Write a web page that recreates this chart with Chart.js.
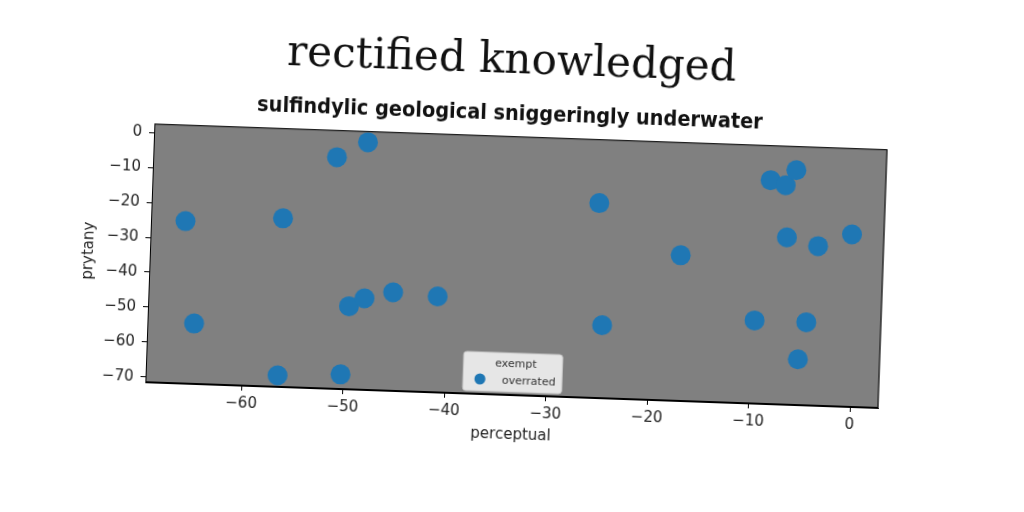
<!DOCTYPE html>
<html>
<head>
<meta charset="utf-8">
<script src="https://cdn.jsdelivr.net/npm/chart.js@4/dist/chart.umd.min.js"></script>
<style>
  html, body { margin: 0; padding: 0; background: #ffffff; overflow: hidden; }
  #wrap { width: 1024px; height: 512px; position: relative; }
  #c { position: absolute; left: 0; top: 0; transform: rotate(2.01deg); transform-origin: 512px 256px; }
</style>
</head>
<body>
<div id="wrap"><canvas id="c" width="1024" height="512"></canvas></div>
<script>
// ---- data ----
const titleText = "rectified knowledged";
const subtitleText = "sulfindylic geological sniggeringly underwater";
const xAxisLabel = "perceptual";
const yAxisLabel = "prytany";
const legendTitle = "exempt";
const seriesLabel = "overrated";

const xValues = [-66.1, -64.9, -56.5, -56.5, -51.4, -48.4, -50.3, -49.7, -48.2, -45.4, -41.0,
                 -25.4, -24.7, -17.2, -9.7, -8.6, -7.1, -6.1, -6.8, -3.7, -0.4, -4.6, -5.3];
const yValues = [-25.0, -54.2, -23.2, -68.2, -5.2, -0.6, -67.3, -47.7, -45.3, -43.3, -44.0,
                 -15.7, -50.6, -29.8, -47.7, -7.4, -8.7, -4.3, -23.6, -25.8, -22.1, -47.7, -58.4];

const xTicks = [-60, -50, -40, -30, -20, -10, 0];
const yTicks = [0, -10, -20, -30, -40, -50, -60, -70];
const xRange = [-69.5, 2.8];
const yRange = [-71.5, 2.6];

const points = xValues.map((x, i) => ({ x: x, y: yValues[i] }));
const minus = v => (v < 0 ? "\u2212" + Math.abs(v) : String(v));

const plotBg = {
  id: 'plotBg',
  beforeDatasetsDraw(chart) {
    const a = chart.chartArea, ctx = chart.ctx;
    ctx.save();
    ctx.fillStyle = '#808080';
    ctx.fillRect(a.left, a.top, a.right - a.left, a.bottom - a.top);
    ctx.restore();
  },
  afterDatasetsDraw(chart) {
    const a = chart.chartArea, ctx = chart.ctx;
    ctx.save();
    ctx.strokeStyle = '#000';
    ctx.lineWidth = 1;
    ctx.strokeRect(a.left + 0.5, a.top + 0.5, a.right - a.left - 1, a.bottom - a.top - 1);
    ctx.restore();
  }
};

const boxLegend = {
  id: 'boxLegend',
  afterDatasetsDraw(chart) {
    const a = chart.chartArea, ctx = chart.ctx;
    const ds = chart.data.datasets[0];
    const w = 99, h = 39;
    const cx = (a.left + a.right) / 2;
    const x0 = cx - w / 2, y0 = a.bottom - 3 - h;
    ctx.save();
    ctx.beginPath();
    if (ctx.roundRect) ctx.roundRect(x0, y0, w, h, 3); else ctx.rect(x0, y0, w, h);
    ctx.fillStyle = 'rgba(255,255,255,0.8)';
    ctx.fill();
    ctx.strokeStyle = '#cccccc';
    ctx.lineWidth = 1;
    ctx.stroke();
    ctx.fillStyle = '#333';
    ctx.font = '11px "DejaVu Sans"';
    ctx.textBaseline = 'middle';
    ctx.textAlign = 'center';
    ctx.fillText(legendTitle, cx + 3, y0 + 11);
    ctx.beginPath();
    ctx.arc(x0 + 17, y0 + 27, 5.5, 0, Math.PI * 2);
    ctx.fillStyle = ds.backgroundColor;
    ctx.fill();
    ctx.fillStyle = '#333';
    ctx.textAlign = 'left';
    ctx.fillText(ds.label, x0 + 39, y0 + 28);
    ctx.restore();
  }
};

new Chart(document.getElementById('c'), {
  type: 'scatter',
  data: {
    datasets: [{
      label: seriesLabel,
      data: points,
      backgroundColor: '#1f77b4',
      borderColor: '#1f77b4',
      borderWidth: 0,
      pointRadius: 10,
      pointHoverRadius: 10
    }]
  },
  options: {
    responsive: false,
    animation: false,
    events: [],
    layout: { padding: { left: 0, right: 14, top: 0, bottom: 68 } },
    plugins: {
      legend: { display: false },
      tooltip: { enabled: false },
      title: {
        display: true,
        text: titleText,
        color: '#111',
        font: { family: '"DejaVu Serif", serif', size: 42, weight: 'normal' },
        padding: { top: 37, bottom: 14 }
      },
      subtitle: {
        display: true,
        text: subtitleText,
        color: '#111',
        font: { family: 'Impact, "Liberation Sans Narrow", "DejaVu Sans Condensed", sans-serif', size: 21.5, weight: 'bold' },
        padding: { top: 0, bottom: 9 }
      }
    },
    scales: {
      x: {
        type: 'linear',
        min: xRange[0], max: xRange[1],
        afterBuildTicks: axis => { axis.ticks = xTicks.map(v => ({ value: v })); },
        ticks: { color: '#222', font: { family: '"DejaVu Sans"', size: 15 }, padding: 4,
                 maxRotation: 0, autoSkip: false, callback: v => minus(v) },
        grid: { display: true, drawOnChartArea: false, drawTicks: true, tickLength: 5, color: '#000' },
        border: { display: true, color: '#000' },
        title: { display: true, text: xAxisLabel, color: '#222',
                 font: { family: '"DejaVu Sans"', size: 15 }, padding: { top: 0, bottom: 0 } }
      },
      y: {
        type: 'linear',
        min: yRange[0], max: yRange[1],
        afterBuildTicks: axis => { axis.ticks = yTicks.map(v => ({ value: v })); },
        afterFit: axis => { axis.width = 150; },
        ticks: { color: '#222', font: { family: '"DejaVu Sans"', size: 15 }, padding: 7,
                 autoSkip: false, callback: v => minus(v) },
        grid: { display: true, drawOnChartArea: false, drawTicks: true, tickLength: 5, color: '#000' },
        border: { display: true, color: '#000' },
        title: { display: true, text: yAxisLabel, color: '#222',
                 font: { family: '"DejaVu Sans"', size: 15 }, padding: { top: 80, bottom: 8 } }
      },
      yRight: {
        type: 'linear',
        position: 'right',
        display: true,
        afterFit: axis => { axis.width = 126.5; },
        ticks: { display: false },
        grid: { display: false },
        border: { display: false }
      }
    }
  },
  plugins: [plotBg, boxLegend]
});
</script>
</body>
</html>
